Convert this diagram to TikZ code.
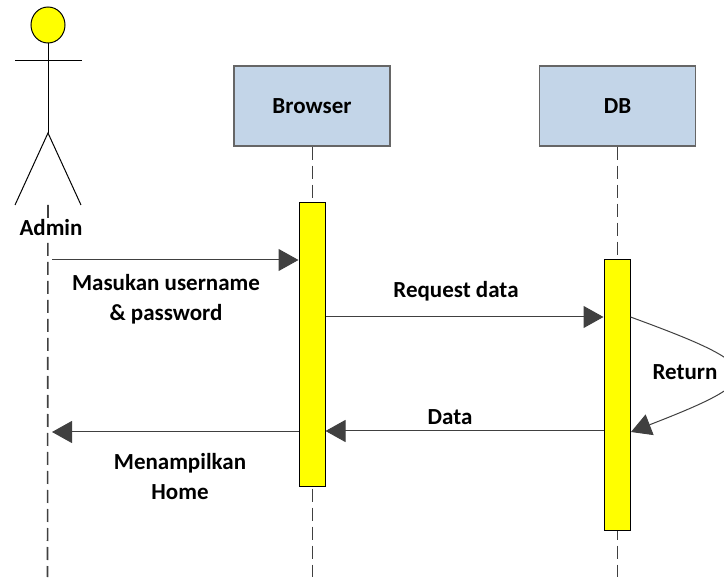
\documentclass[tikz,border=0pt]{standalone}
\usepackage{fontspec}
\setmainfont{Carlito}
\usepackage{xcolor}
\usetikzlibrary{arrows.meta,calc,positioning,shapes.geometric}
\definecolor{boxblue}{HTML}{C3D5E8}
\definecolor{boxline}{HTML}{666666}
\definecolor{msgline}{HTML}{404040}
\definecolor{barfill}{HTML}{FFFF00}
\tikzstyle{lifebox} = [draw=boxline, fill=boxblue, line width=1.2pt, rectangle,
    minimum width=156pt, minimum height=80pt, inner sep=0pt]
\tikzstyle{activebar} = [draw=black, fill=barfill, line width=1pt, rectangle,
    minimum width=26pt, inner sep=0pt]
\tikzstyle{labeltext} = [font=\bfseries\fontsize{23}{30}\selectfont, text=black, inner sep=1pt, align=center]
\tikzstyle{lifeline} = [draw=msgline, dash pattern=on 13pt off 6pt]
\tikzstyle{msgarrow} = [draw=msgline, line width=1pt, -{Triangle[length=20pt,width=22pt]}]
\tikzstyle{stick} = [draw=black, line width=1pt]

\begin{document}
\begin{tikzpicture}[x=1pt,y=-1pt]
\useasboundingbox (0,0) rectangle (724,580);
\clip (0,0) rectangle (724,580);
\node [lifebox] (browser) at (312,106) {};
\node [lifebox] (db) at (617.5,106) {};
\node [labeltext] at (browser) {Browser};
\node [labeltext] at (db) {DB};
\coordinate (browserend) at (312,577);
\coordinate (dbend) at (617.5,577);
\draw [lifeline, line width=0.8pt] (browser.south) -- (browserend);
\draw [lifeline, line width=0.8pt] (db.south) -- (dbend);
\node [activebar, minimum height=284pt] (barbrowser) at (312,345) {};
\node [activebar, minimum height=270pt] (bardb) at (617,395) {};
\node [stick, fill=barfill, ellipse, minimum width=34pt, minimum height=36pt, inner sep=0pt] (head) at (48,25) {};
\coordinate (hip) at (48,133);
\coordinate (armleft) at (15,61);
\coordinate (armright) at (82,61);
\coordinate (footleft) at (15,205);
\coordinate (footright) at (81,205);
\coordinate (adminend) at (47.5,577);
\coordinate (admintop) at (48,205);
\draw [stick] (head.south) -- (hip);
\draw [stick] (armleft) -- (armright);
\draw [stick] (footleft) -- (hip) -- (footright);
\draw [lifeline, line width=1.6pt] (admintop) -- (adminend);
\node [labeltext, fill=white] (admin) at (51,228) {Admin};
\coordinate (login) at (52,260);
\coordinate (request) at (326,317);
\coordinate (answer) at (604,431);
\coordinate (home) at (52,432);
\draw [msgarrow] (login) -- (login -| barbrowser.west);
\draw [msgarrow] (request) -- (request -| bardb.west);
\draw [msgarrow] (answer) -- (answer -| barbrowser.east);
\draw [msgarrow] (home -| barbrowser.west) -- (home);
\coordinate (loopstart) at (bardb.east |- request);
\coordinate (loopend) at (631,432);
\draw [msgarrow] (loopstart) .. controls (770,368) and (770,378) .. (loopend);
\node [labeltext] (masukan) at (166,299) {Masukan username\\\& password};
\node [labeltext] (reqdata) at (456,291) {Request data};
\node [labeltext] (return) at (685,372) {Return};
\node [labeltext] (data) at (450,417) {Data};
\node [labeltext] (menampilkan) at (180,477) {Menampilkan\\Home};
\end{tikzpicture}
\end{document}
